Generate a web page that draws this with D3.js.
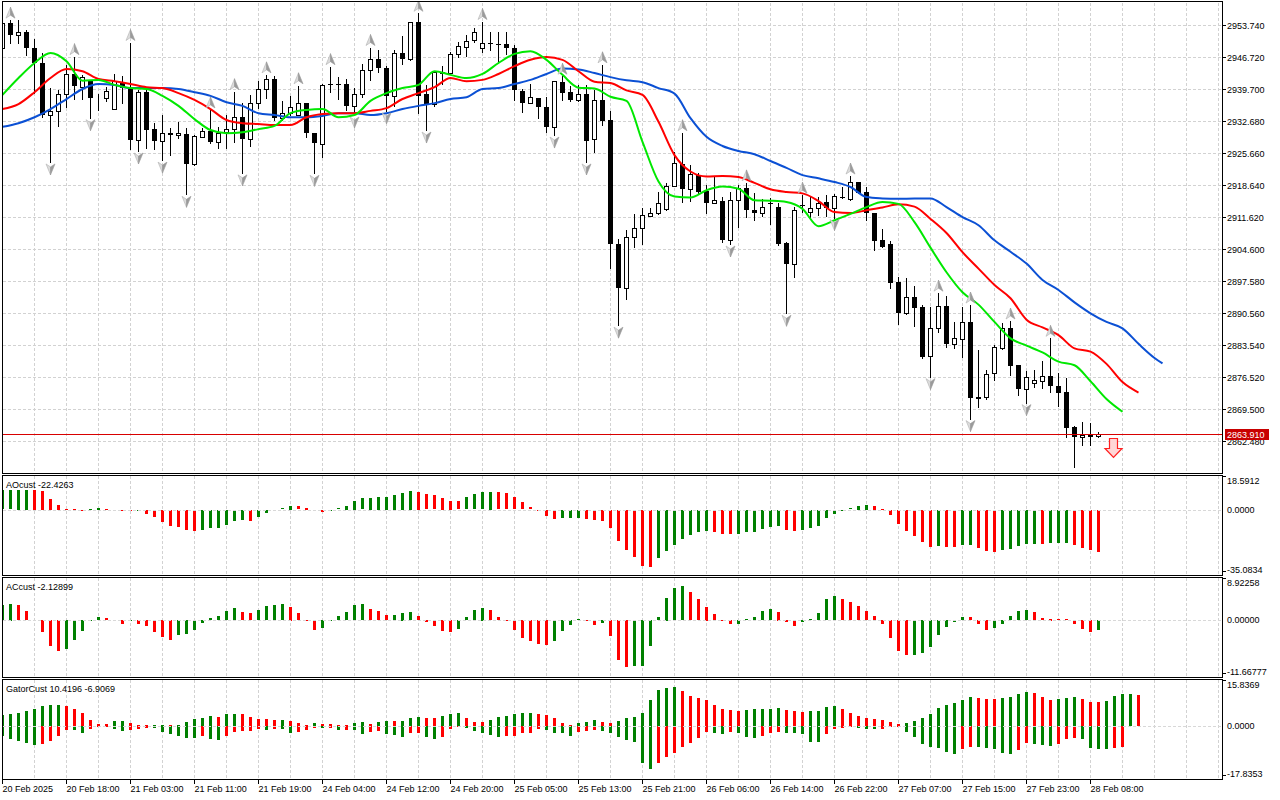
<!DOCTYPE html>
<html><head><meta charset="utf-8">
<script src="https://cdn.jsdelivr.net/npm/d3@7"></script>
<style>
body{margin:0;background:#fff}
svg{display:block}
text{font-family:"Liberation Sans",Arial,sans-serif;font-size:9px;fill:#000}
</style></head>
<body><svg id="c" width="1280" height="800"></svg>
<script>
// ---------- DATA ----------
const dateLabels = ["20 Feb 2025","20 Feb 18:00","21 Feb 03:00","21 Feb 11:00","21 Feb 19:00","24 Feb 04:00","24 Feb 12:00","24 Feb 20:00","25 Feb 05:00","25 Feb 13:00","25 Feb 21:00","26 Feb 06:00","26 Feb 14:00","26 Feb 22:00","27 Feb 07:00","27 Feb 15:00","27 Feb 23:00","28 Feb 08:00"];
const priceTicks = [2953.74,2946.72,2939.70,2932.68,2925.66,2918.64,2911.62,2904.60,2897.58,2890.56,2883.54,2876.52,2869.50,2862.48];
const lastPrice = 2863.91;

const open = [
2948.8,2954.2,2951.5,2952.1,2948.6,2945.3,2933.9,2934.9,2938.5,2943.0,
2940.2,2941.7,2937.9,2937.8,2935.4,2941.3,2940.0,2928.5,2939.0,2930.9,
2928.3,2930.0,2929.5,2929.8,2923.2,2929.2,2930.5,2928.1,2930.2,2930.9,
2933.5,2928.7,2936.6,2939.6,2941.8,2933.4,2934.5,2934.0,2936.6,2930.1,
2927.6,2940.9,2940.9,2940.7,2936.0,2938.5,2943.9,2946.2,2944.2,2938.2,
2947.5,2946.3,2954.3,2938.5,2936.3,2943.5,2943.3,2947.3,2949.0,2950.4,
2948.6,2949.9,2949.6,2949.6,2948.6,2939.3,2936.6,2937.7,2935.7,2931.4,
2941.2,2939.0,2937.3,2938.6,2928.7,2937.3,2932.9,2905.8,2896.1,2907.3,
2909.3,2911.9,2912.6,2913.4,2918.4,2923.2,2917.7,2920.8,2917.3,2914.8,
2915.1,2906.6,2915.3,2917.9,2913.1,2912.6,2914.7,2913.9,2906.0,2901.2,
2914.2,2912.8,2913.7,2914.9,2913.7,2916.1,2915.5,2919.2,2917.0,2912.4,
2906.6,2905.6,2897.3,2890.6,2894.1,2891.9,2881.2,2887.2,2892.1,2883.7,
2884.8,2888.5,2872.1,2872.2,2877.3,2882.9,2887.2,2879.1,2873.8,2875.1,
2875.7,2876.8,2874.6,2873.2,2865.6,2863.3,2864.0,2863.6];
const high = [
2954.8,2954.8,2954.8,2952.6,2950.7,2947.7,2940.0,2939.5,2945.0,2946.8,
2942.8,2941.7,2938.5,2940.1,2943.0,2942.6,2949.9,2939.5,2940.1,2932.2,
2934.0,2931.2,2932.5,2931.1,2929.6,2931.2,2935.1,2931.4,2934.0,2939.1,
2936.6,2938.4,2941.4,2942.8,2942.6,2937.1,2938.2,2940.4,2936.6,2930.1,
2940.9,2944.6,2942.4,2942.0,2939.9,2945.1,2948.8,2948.3,2944.7,2948.3,
2951.3,2954.5,2956.3,2940.6,2943.6,2944.7,2947.9,2950.1,2951.5,2953.0,
2954.5,2952.3,2952.3,2952.1,2949.4,2939.6,2940.7,2937.7,2938.0,2941.5,
2942.5,2940.4,2940.6,2940.6,2939.5,2945.0,2934.9,2906.7,2908.8,2912.3,
2913.7,2913.5,2917.2,2919.0,2925.9,2930.1,2923.0,2921.2,2918.6,2920.5,
2916.1,2917.2,2918.6,2919.1,2916.8,2915.5,2915.7,2914.7,2906.2,2913.9,
2916.4,2916.1,2916.1,2916.4,2916.6,2918.3,2920.6,2919.3,2918.3,2912.4,
2909.0,2906.4,2898.5,2898.3,2896.5,2892.3,2891.9,2894.9,2894.3,2888.6,
2891.9,2892.3,2882.4,2878.0,2883.5,2888.3,2888.8,2879.1,2877.8,2878.0,
2880.1,2885.0,2877.5,2876.2,2865.8,2866.7,2866.5,2864.4];
const low = [
2948.2,2949.9,2949.9,2947.2,2938.8,2933.6,2923.7,2931.6,2935.7,2937.4,
2937.5,2933.4,2935.1,2937.1,2935.4,2936.7,2926.5,2926.1,2926.8,2926.5,
2924.1,2925.2,2928.9,2916.6,2923.0,2929.1,2927.8,2926.7,2926.7,2928.1,
2921.3,2927.3,2935.6,2937.7,2932.9,2932.9,2934.0,2934.0,2929.2,2921.2,
2924.8,2939.1,2937.4,2935.1,2934.0,2938.0,2941.7,2943.5,2934.9,2936.0,
2945.1,2946.1,2934.5,2930.7,2935.9,2940.9,2943.1,2946.8,2946.9,2950.1,
2947.9,2948.3,2945.3,2947.3,2937.3,2934.7,2936.6,2933.3,2930.3,2929.6,
2937.3,2937.1,2937.1,2923.7,2925.9,2931.8,2900.4,2887.9,2893.6,2905.1,
2905.6,2911.8,2912.3,2913.1,2918.4,2915.0,2915.2,2916.8,2912.4,2914.6,
2906.2,2905.7,2909.5,2911.7,2910.9,2911.8,2910.0,2905.5,2890.5,2898.4,
2912.7,2911.7,2912.1,2911.8,2911.5,2915.7,2915.3,2916.8,2910.9,2904.4,
2905.0,2896.0,2888.1,2890.3,2887.7,2880.6,2876.6,2886.4,2883.1,2882.9,
2881.0,2867.4,2870.0,2871.6,2875.8,2882.6,2876.9,2872.6,2870.9,2874.4,
2874.2,2873.3,2870.1,2863.4,2856.7,2861.6,2861.6,2863.4];
const close = [
2954.2,2951.5,2952.1,2948.6,2945.3,2934.1,2934.9,2938.5,2943.0,2940.4,
2942.3,2937.8,2938.0,2939.3,2941.5,2939.9,2928.5,2939.0,2930.7,2928.3,
2930.0,2929.5,2930.0,2923.2,2929.4,2930.5,2928.1,2930.1,2930.9,2933.5,
2928.7,2936.6,2939.6,2941.8,2933.3,2934.5,2935.7,2936.6,2930.0,2927.8,
2940.6,2940.6,2940.6,2936.0,2938.5,2943.9,2946.2,2944.2,2938.2,2947.5,
2946.3,2954.3,2938.2,2936.3,2943.5,2943.1,2947.3,2949.1,2950.3,2952.1,
2949.9,2949.5,2949.5,2948.6,2939.5,2936.6,2937.9,2935.7,2931.4,2941.5,
2938.9,2937.3,2938.5,2928.4,2937.3,2932.7,2905.6,2896.1,2907.3,2909.3,
2912.0,2912.4,2914.6,2918.4,2923.4,2917.7,2921.0,2917.2,2914.8,2915.3,
2906.6,2915.3,2918.0,2913.1,2912.6,2913.9,2914.6,2905.7,2901.2,2913.1,
2914.0,2913.7,2914.6,2913.7,2916.2,2915.8,2919.2,2916.9,2912.4,2906.4,
2905.1,2897.2,2890.6,2894.1,2891.7,2880.8,2887.2,2892.1,2883.7,2885.0,
2888.6,2871.9,2871.7,2877.1,2883.0,2887.2,2879.0,2873.8,2876.6,2875.8,
2876.8,2874.6,2873.1,2865.4,2863.3,2863.9,2863.4,2863.91];

// Alligator lines, read every 2 bars (jaw also at its last bar)
const jawIdx = d3.range(0,145,2).concat([145]);
const jaw = [
2931.4,2932.2,2933.5,2935.3,2937.5,2939.7,2940.8,2940.6,2939.9,2939.9,
2939.9,2939.7,2939.0,2938.2,2936.8,2936.0,2934.4,2934.0,2933.5,2933.5,
2933.8,2934.4,2934.4,2934.0,2934.4,2935.3,2936.0,2936.6,2937.5,2937.9,
2939.7,2939.9,2940.8,2941.7,2943.0,2944.2,2944.0,2943.2,2942.3,2941.6,
2941.2,2939.9,2938.7,2933.3,2929.2,2927.2,2926.1,2925.4,2923.9,2922.4,
2920.8,2920.1,2919.3,2918.2,2916.0,2915.7,2915.6,2915.7,2915.7,2913.8,
2911.6,2909.8,2906.5,2904.0,2901.4,2897.8,2895.6,2892.9,2890.5,2888.6,
2887.2,2883.8,2880.7,2879.5];
const teethIdx = d3.range(0,143,2);
const teeth = [
2935.3,2936.4,2939.0,2942.1,2944.1,2943.6,2941.9,2941.4,2940.8,2940.1,
2939.9,2938.8,2937.3,2935.3,2932.9,2932.2,2932.0,2931.8,2931.8,2933.5,
2934.2,2934.4,2934.4,2934.9,2935.5,2937.5,2938.8,2940.1,2942.1,2941.4,
2941.7,2943.0,2944.7,2946.1,2946.7,2946.1,2943.6,2941.3,2941.0,2939.4,
2938.4,2932.5,2925.2,2921.6,2920.5,2920.6,2920.4,2919.1,2917.7,2917.1,
2916.8,2915.1,2912.7,2912.5,2913.1,2913.7,2914.4,2913.9,2911.2,2908.1,
2903.9,2900.3,2896.7,2893.8,2889.1,2887.4,2885.7,2882.8,2882.1,2879.4,
2875.4,2873.1];
const lipsIdx = d3.range(0,141,2);
const lips = [
2938.4,2942.1,2945.4,2947.6,2945.8,2941.5,2941.7,2940.6,2939.9,2939.7,
2938.2,2936.0,2933.1,2930.7,2930.0,2930.2,2930.9,2931.6,2934.4,2935.1,
2935.3,2933.5,2934.0,2937.1,2938.8,2939.9,2940.6,2943.6,2942.8,2942.1,
2943.0,2945.4,2947.4,2948.0,2946.1,2942.8,2940.0,2939.8,2938.0,2937.1,
2928.1,2919.4,2916.1,2915.9,2917.5,2918.3,2917.8,2915.3,2915.2,2914.9,
2913.4,2909.6,2910.9,2912.3,2913.8,2914.9,2914.5,2910.5,2904.9,2899.5,
2895.1,2892.4,2888.6,2885.0,2883.4,2881.9,2879.9,2879.1,2875.6,2871.7,
2868.9];

const fractalUp = [1,9,16,26,29,33,37,41,46,52,60,70,75,85,93,100,106,117,121,126,131];
const fractalDown = [6,11,17,20,23,30,39,44,48,53,69,73,77,91,98,104,116,121,128];
const signalIdx = 139;

const ao = [
10.3,10.4,10.5,10.6,10.5,10.0,5.7,2.5,0.3,0.15,
0.05,0.15,0.9,0.3,-0.2,-0.4,-0.5,-0.4,-2.0,-3.8,
-6.5,-8.6,-9.2,-10.9,-11.1,-10.9,-9.7,-9.6,-7.9,-6.1,
-5.4,-5.8,-3.8,-1.6,-0.4,0.7,1.9,1.8,0.9,-0.04,
-1.1,-0.4,0.7,2.1,4.6,6.0,6.2,6.8,6.9,7.8,
9.1,10.0,9.6,8.2,7.7,6.2,4.6,4.5,6.6,8.2,
9.3,9.4,9.2,8.7,6.6,3.9,1.2,-0.05,-3.3,-4.7,
-4.3,-4.2,-4.1,-4.7,-5.6,-6.1,-9.7,-16.7,-21.7,-25.3,
-30.3,-30.4,-25.8,-22.2,-18.6,-15.8,-13.3,-11.9,-11.5,-11.7,
-12.7,-13.1,-12.8,-11.8,-11.7,-10.2,-9.2,-8.6,-10.9,-11.5,
-11.0,-9.7,-8.6,-4.3,-2.0,-0.4,0.7,1.9,2.5,1.9,
0.1,-2.9,-7.4,-11.5,-14.0,-17.2,-19.9,-19.5,-19.6,-19.9,
-19.0,-18.9,-20.4,-22.2,-22.3,-21.3,-20.8,-19.5,-18.5,-18.1,
-18.5,-17.8,-17.7,-17.6,-18.6,-20.4,-21.7,-22.4263];
const ac = [
3.2,3.4,3.15,1.9,0.05,-2.5,-5.4,-6.45,-5.9,-4.05,
-2.2,-0.14,0.7,0.4,-0.27,-0.75,-0.14,-0.75,-1.3,-2.5,
-3.6,-4.05,-3.0,-2.95,-2.0,-0.6,0.4,0.9,1.9,2.5,
1.65,1.45,2.1,2.95,3.15,3.35,2.8,1.45,-0.07,-2.0,
-1.7,-0.05,0.9,1.65,3.15,3.35,2.25,1.9,1.1,1.15,
1.6,1.7,0.9,-0.5,-1.3,-2.2,-2.5,-1.8,0.7,2.1,
2.6,2.1,0.7,-0.07,-2.0,-3.7,-4.4,-4.9,-5.1,-4.25,
-2.2,-0.95,0.27,-0.27,-0.95,-0.6,-3.35,-8.15,-9.75,-9.55,
-9.4,-5.4,0.7,4.65,6.7,7.05,5.75,4.4,2.8,1.3,
-0.27,-0.8,-0.75,0.27,0.7,1.9,2.3,1.8,-0.5,-1.3,
-0.5,0.27,1.45,4.4,5.0,4.4,3.7,2.95,1.9,0.95,
-0.8,-3.7,-6.45,-7.3,-7.15,-6.8,-5.6,-3.15,-1.5,-0.5,
0.7,0.65,-0.8,-2.0,-1.7,-0.75,0.9,1.9,2.1,1.65,
0.4,0.35,0.27,0.2,-0.8,-1.8,-2.55,-2.12899];
const gatorUp = [
3.7,4.0,4.4,5.0,5.7,6.7,7.1,7.15,6.7,5.6,
4.4,2.0,0.7,0.55,1.7,1.75,1.1,0.35,0.25,0.28,
0.34,0.28,0.34,1.5,2.4,2.8,3.5,3.1,3.9,4.15,
4.1,3.1,2.4,2.3,2.0,2.1,1.7,1.1,0.35,1.1,
0.8,0.55,0.35,0.28,1.1,1.35,0.7,1.35,1.8,1.75,
1.8,2.7,3.1,2.8,2.75,3.35,4.15,4.5,2.7,1.5,
1.2,2.0,2.9,3.4,3.9,4.3,4.4,3.9,3.7,2.6,
1.1,0.2,0.9,1.2,2.0,1.5,1.1,1.8,2.6,3.1,
4.5,8.75,12.1,12.7,13.0,11.9,10.2,9.3,8.75,7.1,
5.6,5.5,5.2,5.4,5.6,5.7,5.9,6.05,5.4,5.05,
4.8,4.9,5.2,6.3,6.7,5.9,4.3,3.4,2.7,2.2,
2.0,1.2,0.7,0.9,1.8,2.6,3.9,6.2,7.1,7.9,
8.75,9.65,9.3,9.1,9.0,9.5,9.9,10.8,11.6,11.2,
9.9,8.75,9.1,9.3,9.65,9.0,8.2,8.1,8.4,10.1,
10.8,10.9,10.4196];
const gatorDown = [
-3.4,-4.4,-5.0,-5.8,-6.4,-6.1,-5.0,-3.3,-1.35,-1.45,
-2.2,-1.0,-0.22,-0.17,-0.9,-1.7,-1.35,-1.0,-0.56,-0.62,
-1.9,-2.7,-3.25,-3.9,-4.0,-3.25,-4.4,-4.7,-3.25,-1.9,
-1.7,-1.55,-1.0,-1.35,-1.0,-1.1,-2.2,-1.9,-1.35,-0.56,
-0.8,-0.56,-1.35,-1.3,-1.35,-2.7,-1.95,-1.6,-2.6,-2.95,
-3.6,-2.4,-2.25,-3.6,-4.5,-3.7,-0.9,-0.2,-0.8,-1.6,
-2.5,-3.0,-3.8,-3.4,-3.25,-2.5,-2.25,-1.1,-1.25,-2.25,
-2.5,-3.25,-1.9,-1.7,-1.35,-1.6,-2.5,-3.6,-4.7,-5.3,
-12.3,-14.6,-12.3,-10.5,-9.0,-7.2,-5.8,-4.15,-1.9,-2.5,
-2.6,-2.0,-2.5,-3.6,-3.9,-3.25,-2.3,-2.1,-2.3,-2.5,
-2.6,-5.3,-5.4,-2.7,-1.1,-0.8,-0.2,-0.55,-1.0,-1.1,
-1.0,-0.45,-0.35,-1.9,-3.6,-6.05,-6.95,-7.3,-8.6,-9.4,
-7.85,-6.95,-7.2,-7.5,-7.75,-9.0,-9.4,-8.1,-5.6,-6.05,
-6.4,-6.7,-6.05,-4.5,-3.9,-4.4,-7.5,-7.7,-7.85,-7.3,
-6.9069];
const aoAxis = [18.5912, 0, -35.0834];
const acAxis = [8.92258, 0, -11.66777];
const gatorAxis = [15.8369, 0, -17.8353];

// ---------- LAYOUT ----------
const svg = d3.select("#c");
const L = 2, R = 1222;
const main = {top: 2, bot: 473};
const fix = n => v => v.toFixed(n);   // plain hyphen-minus like the terminal
const panes = [
  {top: 475, bot: 575, axis: aoAxis, fmt: fix(4)},
  {top: 577, bot: 677, axis: acAxis, fmt: fix(5)},
  {top: 679, bot: 779, axis: gatorAxis, fmt: fix(4)}
];
const GREEN = "#008000", RED = "#ff0000";
const GRID = "#d2d2d2";

const x = d3.scaleLinear().domain([0, 137]).range([2, 1098]);
const yP = d3.scaleLinear().domain([priceTicks[0], priceTicks[priceTicks.length-1]]).range([25, 441]);
panes.forEach(p => p.y = d3.scaleLinear().domain([p.axis[2], p.axis[0]]).range([p.bot, p.top]));

svg.append("rect").attr("width",1280).attr("height",800).attr("fill","#fff");
const defs = svg.append("defs");
defs.append("clipPath").attr("id","clipMain").append("rect").attr("x",L).attr("y",main.top).attr("width",R-L).attr("height",main.bot-main.top);
panes.forEach((p,k)=>defs.append("clipPath").attr("id","clipP"+k).append("rect").attr("x",L).attr("y",p.top).attr("width",R-L).attr("height",p.bot-p.top));

const gridIdx = d3.range(4, 160, 4).filter(i => x(i) < R - 1);
[main, ...panes].forEach(p => {
  svg.append("g").selectAll("line").data(gridIdx).join("line")
    .attr("x1", i => x(i)+0.5).attr("x2", i => x(i)+0.5)
    .attr("y1", p.top+1).attr("y2", p.bot)
    .attr("stroke", GRID).attr("stroke-dasharray","3,2").attr("shape-rendering","crispEdges");
});
svg.append("g").selectAll("line").data(priceTicks).join("line")
  .attr("x1", L+1).attr("x2", R)
  .attr("y1", d => Math.round(yP(d))+0.5).attr("y2", d => Math.round(yP(d))+0.5)
  .attr("stroke", GRID).attr("stroke-dasharray","3,2").attr("shape-rendering","crispEdges");

// ---------- CANDLES ----------
const gC = svg.append("g").attr("clip-path","url(#clipMain)");
const idx = d3.range(open.length);
gC.selectAll("line.w").data(idx).join("line")
  .attr("x1", i => x(i)+0.5).attr("x2", i => x(i)+0.5)
  .attr("y1", i => Math.round(yP(high[i]))).attr("y2", i => Math.round(yP(low[i]))+1)
  .attr("stroke","#000").attr("shape-rendering","crispEdges");
idx.forEach(i => {
  const top = Math.round(yP(Math.max(open[i], close[i])));
  const bot = Math.round(yP(Math.min(open[i], close[i])));
  const h = bot - top;
  if (close[i] >= open[i]) {
    gC.append("rect").attr("x", x(i)-1.5).attr("y", top+0.5).attr("width",4).attr("height", Math.max(h,0))
      .attr("fill","#fff").attr("stroke","#000").attr("stroke-width",1);
  } else {
    gC.append("rect").attr("x", x(i)-2).attr("y", top).attr("width",5).attr("height", Math.max(h,1))
      .attr("fill","#000").attr("shape-rendering","crispEdges");
  }
});

// ---------- ALLIGATOR ----------
const lineGen = d3.line().x(d => x(d[0])+0.5).y(d => yP(d[1])).curve(d3.curveMonotoneX);
const gL = svg.append("g").attr("clip-path","url(#clipMain)");
[[jawIdx, jaw, "#0b50d4"], [teethIdx, teeth, "#ff0000"], [lipsIdx, lips, "#00e800"]].forEach(([ix, vals, col]) => {
  gL.append("path").datum(ix.map((i,k)=>[i, vals[k]])).attr("d", lineGen)
    .attr("fill","none").attr("stroke", col).attr("stroke-width", 2);
});

// ---------- FRACTALS ----------
const gF = svg.append("g").attr("clip-path","url(#clipMain)");
function arrow(cx, tipY, dir) {
  const g = gF.append("g").attr("transform", `translate(${cx},${tipY}) scale(1,${dir<0?1:-1})`);
  g.append("path").attr("d","M0,0 L-4.5,11 L0,8 Z").attr("fill","#dcdcdc").attr("stroke","#b0b0b0").attr("stroke-width",0.6);
  g.append("path").attr("d","M0,0 L4.5,11 L0,8 Z").attr("fill","#9a9a9a").attr("stroke","#9a9a9a").attr("stroke-width",0.6);
}
fractalUp.forEach(i => arrow(x(i)+0.5, yP(high[i]) - 13, -1));
fractalDown.forEach(i => arrow(x(i)+0.5, yP(low[i]) + 13, 1));

// ---------- PRICE LINE & SIGNAL ----------
const yLast = Math.round(yP(lastPrice)) + 0.5;
svg.append("line").attr("x1",L).attr("x2",R).attr("y1",yLast).attr("y2",yLast)
  .attr("stroke","#d80000").attr("stroke-width",1);
const sx = x(signalIdx) - 0.5, sy = yLast + 4;
svg.append("path")
  .attr("d", `M${sx-4},${sy} H${sx+4} V${sy+10} H${sx+8.5} L${sx},${sy+19} L${sx-8.5},${sy+10} H${sx-4} Z`)
  .attr("fill","#ffd6d6").attr("stroke","#ff2020").attr("stroke-width",1.2);

// ---------- INDICATOR PANES ----------
function colorsRising(vals, useAbs) {
  const out = []; let prev = null, c = GREEN;
  vals.forEach(v => {
    const a = useAbs ? Math.abs(v) : v;
    if (prev !== null) { if (a > prev) c = GREEN; else if (a < prev) c = RED; }
    out.push(c); prev = a;
  });
  return out;
}
function bars(pk, vals, useAbs) {
  const p = panes[pk]; const cols = colorsRising(vals, useAbs);
  const y0 = p.y(0);
  svg.append("g").attr("clip-path",`url(#clipP${pk})`).selectAll("rect").data(vals).join("rect")
    .attr("x", (d,i) => x(i)-1).attr("width", 3)
    .attr("y", d => Math.round(Math.min(y0, p.y(d))))
    .attr("height", d => Math.max(1, Math.round(Math.abs(p.y(d) - y0))))
    .attr("fill", (d,i) => cols[i]).attr("shape-rendering","crispEdges");
}
bars(0, ao, false);
bars(1, ac, false);
bars(2, gatorUp, true);
bars(2, gatorDown, true);

panes.forEach(p => {
  const y0 = Math.round(p.y(0)) + 0.5;
  svg.append("line").attr("x1",L+1).attr("x2",R).attr("y1",y0).attr("y2",y0)
    .attr("stroke","#d8d8d8").attr("stroke-dasharray","3,2").attr("shape-rendering","crispEdges");
});

const titles = [
  "AOcust " + fix(4)(ao[ao.length-1]),
  "ACcust " + fix(5)(ac[ac.length-1]),
  "GatorCust " + fix(4)(gatorUp[gatorUp.length-1]) + " " + fix(4)(gatorDown[gatorDown.length-1])
];
panes.forEach((p,k) => svg.append("text").attr("x",6).attr("y",p.top+13).text(titles[k]));

// ---------- BORDERS ----------
svg.append("rect").attr("x",L+0.5).attr("y",main.top-0.5).attr("width",R-L).attr("height",main.bot-main.top+1)
  .attr("fill","none").attr("stroke","#000");
panes.forEach(p => svg.append("rect").attr("x",L+0.5).attr("y",p.top+0.5).attr("width",R-L).attr("height",p.bot-p.top)
  .attr("fill","none").attr("stroke","#000"));

// ---------- AXES ----------
const gA = svg.append("g");
priceTicks.forEach(t => {
  const yy = Math.round(yP(t)) + 0.5;
  gA.append("line").attr("x1",R).attr("x2",R+4).attr("y1",yy).attr("y2",yy).attr("stroke","#000");
  gA.append("text").attr("x",R+5).attr("y",yy).attr("dy","0.35em").text(fix(3)(t));
});
gA.append("rect").attr("x",R+3).attr("y",yLast-5.5).attr("width",44).attr("height",11).attr("fill","#c80000");
gA.append("text").attr("x",R+5).attr("y",yLast).attr("dy","0.35em").style("fill","#fff").text(fix(3)(lastPrice));

panes.forEach(p => {
  const [top, zero, bot] = p.axis;
  gA.append("line").attr("x1",R).attr("x2",R+4).attr("y1",p.top+1.5).attr("y2",p.top+1.5).attr("stroke","#000");
  gA.append("text").attr("x",R+5).attr("y",p.top+9).text(p.fmt(top));
  gA.append("text").attr("x",R+5).attr("y",p.y(zero)).attr("dy","0.35em").text(p.fmt(zero));
  gA.append("line").attr("x1",R).attr("x2",R+4).attr("y1",p.bot-3.5).attr("y2",p.bot-3.5).attr("stroke","#000");
  gA.append("text").attr("x",R+5).attr("y",p.bot-2.5).text(p.fmt(bot));
});

dateLabels.forEach((lab, k) => {
  const i = k * 8;
  gA.append("line").attr("x1", x(i)+0.5).attr("x2", x(i)+0.5).attr("y1", 779).attr("y2", 784).attr("stroke","#000");
  gA.append("text").attr("x", x(i)+0.5).attr("y", 792).text(lab);
});
</script>
</body></html>
